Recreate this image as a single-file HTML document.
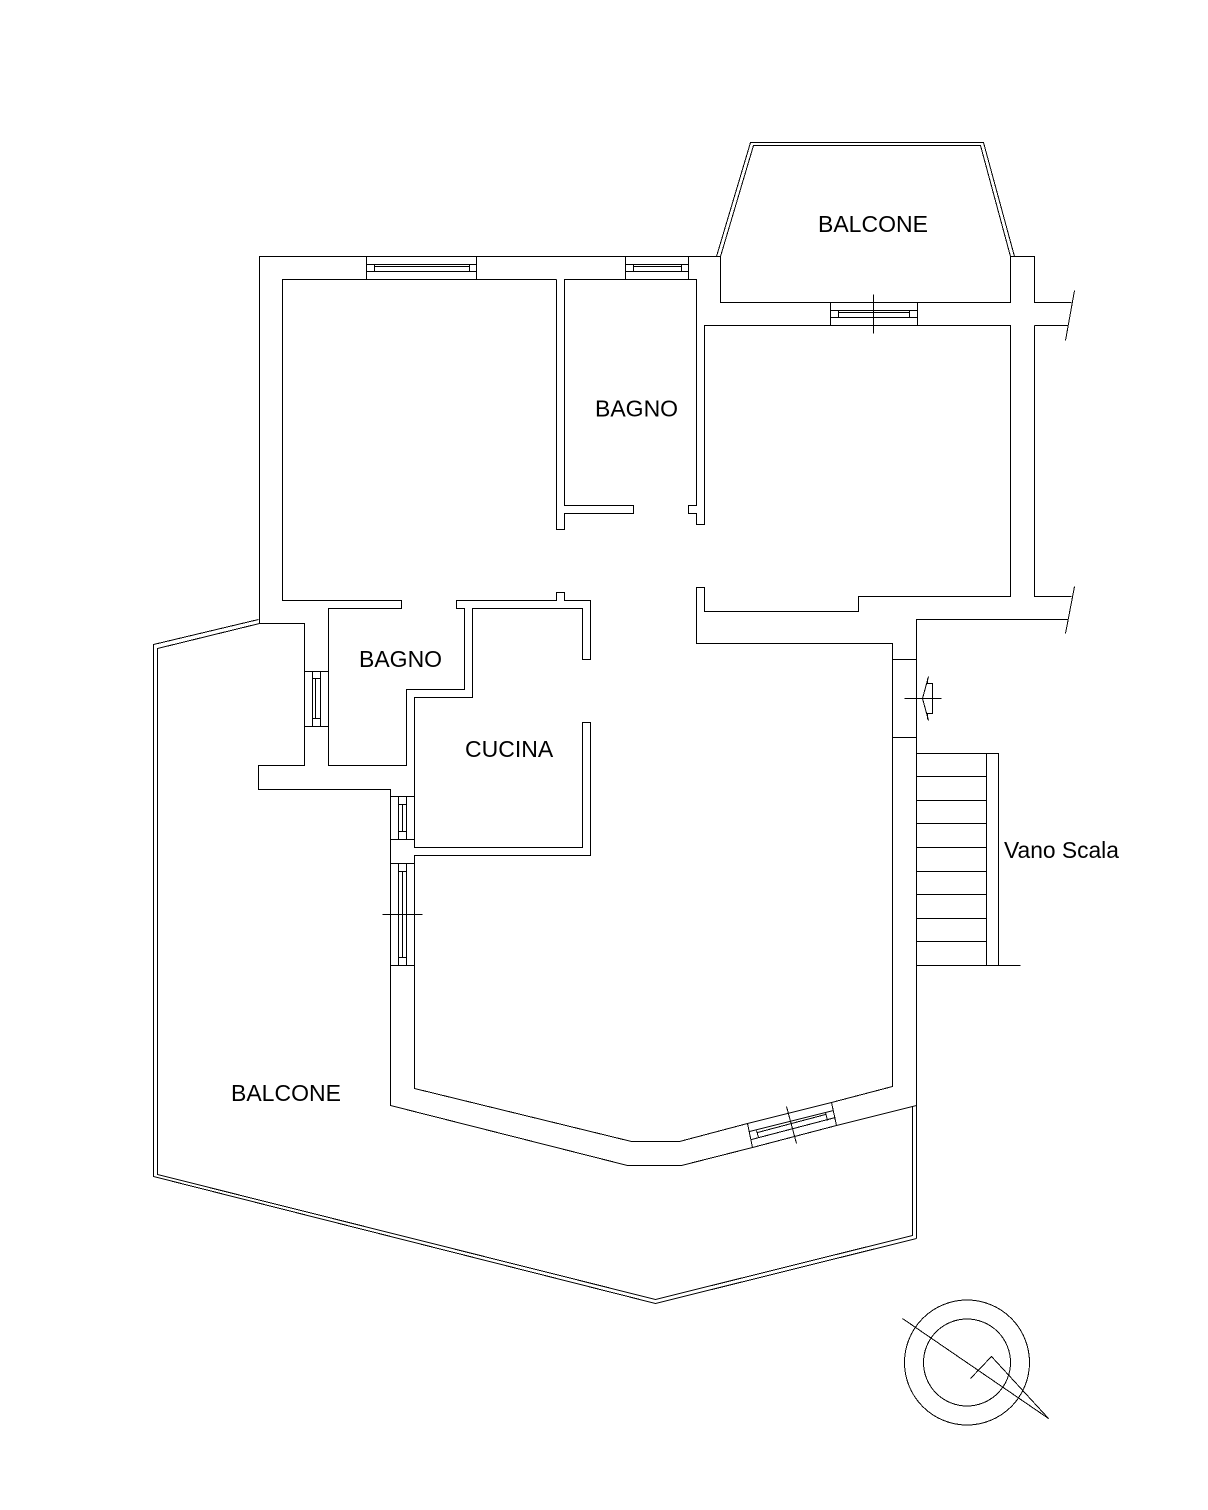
<!DOCTYPE html>
<html>
<head>
<meta charset="utf-8">
<style>
html,body{margin:0;padding:0;background:#fff;}
svg{display:block;}
.l{fill:none;stroke:#000;stroke-width:1;shape-rendering:crispEdges;}
text{font-family:"Liberation Sans",sans-serif;font-size:23px;fill:#000;}
</style>
</head>
<body>
<svg width="1208" height="1510" viewBox="0 0 1208 1510" xmlns="http://www.w3.org/2000/svg">
<rect width="1208" height="1510" fill="#fff"/>
<g class="l">
<!-- outer top / left wall -->
<polyline points="720.5,256.5 259.5,256.5 259.5,623.5 304.5,623.5 304.5,765.5 258.5,765.5 258.5,789.5 390.5,789.5 390.5,1105.5 627.5,1165.5 681.5,1165.5 752.5,1147.5"/>
<polyline points="836.5,1125.5 916.5,1105.5"/>
<!-- big room inner -->
<polyline points="556.5,279.5 282.5,279.5 282.5,600.5 401.5,600.5 401.5,608.5 328.5,608.5 328.5,765.5 406.5,765.5 406.5,689.5 464.5,689.5 464.5,608.5 456.5,608.5 456.5,600.5 556.5,600.5 556.5,592.5 564.5,592.5 564.5,600.5 590.5,600.5 590.5,659.5 582.5,659.5 582.5,608.5 472.5,608.5 472.5,697.5 414.5,697.5 414.5,847.5 582.5,847.5 582.5,722.5 590.5,722.5 590.5,855.5 414.5,855.5 414.5,1088.5 631.5,1141.5 679.5,1141.5 747.5,1123.5"/>
<polyline points="831.5,1102.5 892.5,1086.5 892.5,643.5 696.5,643.5 696.5,587.5 704.5,587.5 704.5,611.5 858.5,611.5 858.5,596.5 1010.5,596.5 1010.5,325.5 704.5,325.5 704.5,524.5 696.5,524.5 696.5,513.5 688.5,513.5 688.5,505.5 696.5,505.5 696.5,279.5 564.5,279.5 564.5,505.5 633.5,505.5 633.5,513.5 564.5,513.5 564.5,529.5 556.5,529.5 556.5,279.5"/>
<!-- balcony top floor -->
<polyline points="720.5,256.5 720.5,302.5 1010.5,302.5 1010.5,256.5 1034.5,256.5 1034.5,302.5 1071.5,302.5"/>
<polyline points="1034.5,325.5 1034.5,596.5 1071.5,596.5"/>
<line x1="1034.5" y1="325.5" x2="1068.5" y2="325.5"/>
<!-- stair wall -->
<polyline points="1067.5,619.5 916.5,619.5 916.5,1238.5"/>
<line x1="1074.5" y1="290.5" x2="1065.5" y2="340.5"/>
<line x1="1074.5" y1="586.5" x2="1065.5" y2="633.5"/>
<!-- door -->
<line x1="892.5" y1="659.5" x2="916.5" y2="659.5"/>
<line x1="892.5" y1="737.5" x2="916.5" y2="737.5"/>
<polyline points="928.5,676.5 922.5,698.5 928.5,720.5"/>
<polyline points="926.5,683.5 932.5,683.5 932.5,713.5 926.5,713.5"/>
<line x1="927.5" y1="678.5" x2="927.5" y2="683.5"/>
<line x1="927.5" y1="713.5" x2="927.5" y2="719.5"/>
<line x1="904.5" y1="698.5" x2="941.5" y2="698.5"/>
<!-- stairs -->
<polyline points="916.5,753.5 998.5,753.5 998.5,965.5"/>
<line x1="986.5" y1="753.5" x2="986.5" y2="965.5"/>
<line x1="916.5" y1="776.5" x2="986.5" y2="776.5"/>
<line x1="916.5" y1="800.5" x2="986.5" y2="800.5"/>
<line x1="916.5" y1="823.5" x2="986.5" y2="823.5"/>
<line x1="916.5" y1="847.5" x2="986.5" y2="847.5"/>
<line x1="916.5" y1="871.5" x2="986.5" y2="871.5"/>
<line x1="916.5" y1="894.5" x2="986.5" y2="894.5"/>
<line x1="916.5" y1="918.5" x2="986.5" y2="918.5"/>
<line x1="916.5" y1="941.5" x2="986.5" y2="941.5"/>
<line x1="916.5" y1="965.5" x2="1020.5" y2="965.5"/>
<!-- top balcony railing -->
<polyline points="716.5,256.5 750.5,142.5 983.5,142.5 1014.5,256.5"/>
<polyline points="720.5,256.5 753.5,145.5 980.5,145.5 1010.5,256.5"/>
<!-- big balcony railing -->
<polyline points="258.5,619.5 153.5,644.5 153.5,1176.5 655.5,1303.5 916.5,1238.5"/>
<polyline points="259.5,623.5 157.5,648.5 157.5,1174.5 655.5,1299.5 912.5,1235.5 912.5,1106.5"/>
<!-- top windows -->
<line x1="366.5" y1="256.5" x2="366.5" y2="279.5"/>
<line x1="476.5" y1="256.5" x2="476.5" y2="279.5"/>
<line x1="366.5" y1="264.5" x2="476.5" y2="264.5"/>
<line x1="366.5" y1="271.5" x2="476.5" y2="271.5"/>
<line x1="374.5" y1="266.5" x2="469.5" y2="266.5"/>
<line x1="374.5" y1="264.5" x2="374.5" y2="271.5"/>
<line x1="469.5" y1="264.5" x2="469.5" y2="271.5"/>
<line x1="625.5" y1="256.5" x2="625.5" y2="279.5"/>
<line x1="688.5" y1="256.5" x2="688.5" y2="279.5"/>
<line x1="625.5" y1="264.5" x2="688.5" y2="264.5"/>
<line x1="625.5" y1="271.5" x2="688.5" y2="271.5"/>
<line x1="633.5" y1="266.5" x2="681.5" y2="266.5"/>
<line x1="633.5" y1="264.5" x2="633.5" y2="271.5"/>
<line x1="681.5" y1="264.5" x2="681.5" y2="271.5"/>
<!-- balcony window -->
<line x1="830.5" y1="302.5" x2="830.5" y2="325.5"/>
<line x1="917.5" y1="302.5" x2="917.5" y2="325.5"/>
<line x1="830.5" y1="310.5" x2="917.5" y2="310.5"/>
<line x1="830.5" y1="317.5" x2="917.5" y2="317.5"/>
<line x1="838.5" y1="312.5" x2="909.5" y2="312.5"/>
<line x1="838.5" y1="310.5" x2="838.5" y2="317.5"/>
<line x1="909.5" y1="310.5" x2="909.5" y2="317.5"/>
<line x1="873.5" y1="294.5" x2="873.5" y2="333.5"/>
<!-- bagno window -->
<line x1="304.5" y1="671.5" x2="328.5" y2="671.5"/>
<line x1="304.5" y1="726.5" x2="328.5" y2="726.5"/>
<line x1="312.5" y1="671.5" x2="312.5" y2="726.5"/>
<line x1="320.5" y1="671.5" x2="320.5" y2="726.5"/>
<line x1="315.5" y1="678.5" x2="315.5" y2="718.5"/>
<line x1="312.5" y1="678.5" x2="320.5" y2="678.5"/>
<line x1="312.5" y1="718.5" x2="320.5" y2="718.5"/>
<!-- cucina window -->
<line x1="390.5" y1="796.5" x2="414.5" y2="796.5"/>
<line x1="390.5" y1="839.5" x2="414.5" y2="839.5"/>
<line x1="398.5" y1="796.5" x2="398.5" y2="839.5"/>
<line x1="406.5" y1="796.5" x2="406.5" y2="839.5"/>
<line x1="402.5" y1="804.5" x2="402.5" y2="831.5"/>
<line x1="398.5" y1="804.5" x2="406.5" y2="804.5"/>
<line x1="398.5" y1="831.5" x2="406.5" y2="831.5"/>
<!-- long window -->
<line x1="390.5" y1="863.5" x2="414.5" y2="863.5"/>
<line x1="390.5" y1="965.5" x2="414.5" y2="965.5"/>
<line x1="398.5" y1="863.5" x2="398.5" y2="965.5"/>
<line x1="406.5" y1="863.5" x2="406.5" y2="965.5"/>
<line x1="402.5" y1="871.5" x2="402.5" y2="957.5"/>
<line x1="398.5" y1="871.5" x2="406.5" y2="871.5"/>
<line x1="398.5" y1="957.5" x2="406.5" y2="957.5"/>
<line x1="382.5" y1="914.5" x2="422.5" y2="914.5"/>
<!-- angled window -->
<polygon points="747.5,1123.5 831.5,1102.5 836.5,1125.5 752.5,1147.5"/>
<line x1="749.5" y1="1131.5" x2="833.5" y2="1110.5"/>
<line x1="751.5" y1="1139.5" x2="835.5" y2="1117.5"/>
<line x1="757.5" y1="1132.5" x2="825.5" y2="1114.5"/>
<line x1="756.5" y1="1130.5" x2="758.5" y2="1137.5"/>
<line x1="825.5" y1="1112.5" x2="827.5" y2="1120.5"/>
<line x1="786.5" y1="1106.5" x2="796.5" y2="1143.5"/>
<!-- compass -->
<polyline points="902.5,1318.5 1048.5,1418.5 991.5,1356.5 970.5,1378.5"/>
<circle cx="967" cy="1362.5" r="62.5"/>
<circle cx="967" cy="1362.5" r="43.5"/>
</g>
<text x="818" y="232">BALCONE</text>
<text x="595" y="416.5">BAGNO</text>
<text x="359" y="667">BAGNO</text>
<text x="465" y="757">CUCINA</text>
<text x="231" y="1101">BALCONE</text>
<text x="1004" y="858" style="font-size:22.8px">Vano Scala</text>
</svg>
</body>
</html>
